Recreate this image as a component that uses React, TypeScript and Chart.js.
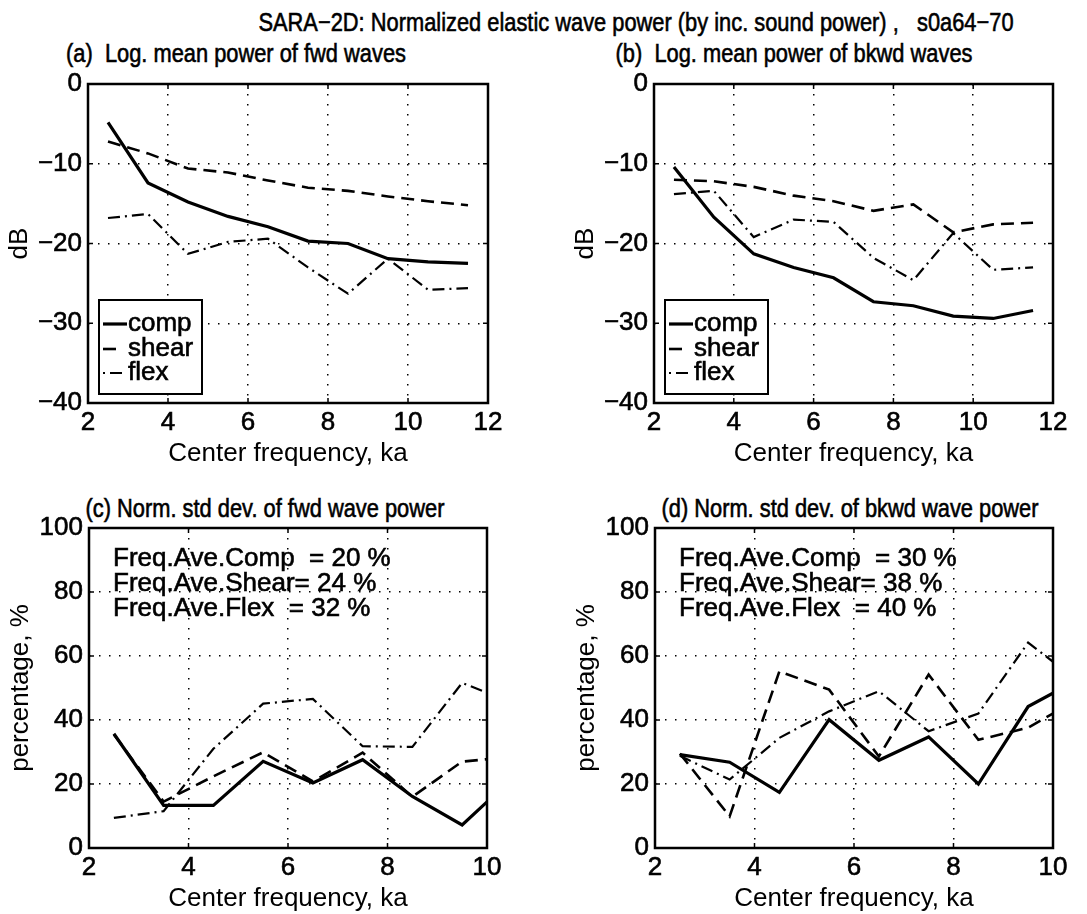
import React, { useEffect, useRef } from 'react';
import { Chart, registerables } from 'chart.js';

Chart.register(...registerables);

const FONT = '"Liberation Sans", Arial, Helvetica, sans-serif';
const FONT_SIZE = 26;
const TEXT_STROKE = 0.6;

// Center frequencies (ka) of the analysis bands
const freqPower = [2.5, 3.5, 4.5, 5.5, 6.5, 7.5, 8.5, 9.5, 10.5, 11.5];
const freqStd = [2.5, 3.5, 4.5, 5.5, 6.5, 7.5, 8.5, 9.5, 10.5];

// (a) log mean power of forward waves, dB
const fwdCompDb = [-4.8, -12.4, -14.8, -16.6, -17.9, -19.7, -20.0, -21.9, -22.3, -22.5];
const fwdShearDb = [-7.2, -8.7, -10.6, -11.1, -12.1, -13.0, -13.4, -14.1, -14.7, -15.2];
const fwdFlexDb = [-16.8, -16.3, -21.3, -19.8, -19.4, -23.0, -26.3, -21.9, -25.8, -25.6];

// (b) log mean power of backward waves, dB
const bkwdCompDb = [-10.4, -16.7, -21.3, -23.0, -24.3, -27.3, -27.8, -29.1, -29.4, -28.4];
const bkwdShearDb = [-12.0, -12.2, -12.9, -14.0, -14.7, -15.9, -15.1, -18.6, -17.6, -17.4];
const bkwdFlexDb = [-13.8, -13.4, -19.2, -17.0, -17.3, -21.8, -24.6, -18.7, -23.3, -23.0];

// (c) normalized std. dev. of forward wave power, %
const fwdCompPct = [35.7, 13.3, 13.3, 27.1, 20.3, 27.6, 16.1, 7.2, 21.6];
const fwdShearPct = [35.5, 14.5, 22.4, 29.9, 20.8, 29.8, 16.0, 27.0, 28.5];
const fwdFlexPct = [9.4, 11.5, 31.0, 45.1, 46.6, 31.8, 31.6, 51.6, 45.5];

// (d) normalized std. dev. of backward wave power, %
const bkwdCompPct = [29.2, 26.8, 17.4, 40.1, 27.4, 34.7, 20.0, 44.2, 52.6];
const bkwdShearPct = [29.5, 9.9, 55.2, 49.5, 28.6, 54.2, 33.8, 37.6, 46.5];
const bkwdFlexPct = [28.8, 21.4, 34.4, 42.7, 49.0, 36.5, 42.0, 64.2, 52.2];

// Frequency-averaged std. dev. (comp, shear, flex), %
const fwdAverages = [20, 24, 32];
const bkwdAverages = [30, 38, 40];

const X_TITLE = 'Center frequency, ka';

type Kind = 'comp' | 'shear' | 'flex';
const KINDS: Kind[] = ['comp', 'shear', 'flex'];

const LINE_STYLE: Record<Kind, { width: number; dash: number[] }> = {
  comp: { width: 3.2, dash: [] },
  shear: { width: 2.6, dash: [13, 7] },
  flex: { width: 2.2, dash: [12, 5, 2, 5] },
};

interface PanelSpec {
  area: { x: number; y: number; w: number; h: number };
  x: { min: number; max: number; step: number };
  y: { min: number; max: number; step: number };
  yTitle: string;
  freq: number[];
  series: number[][];
  legend: boolean;
  notes: string[];
}

const noteLines = (avg: number[]) => [
  `Freq.Ave.Comp  = ${avg[0]} %`,
  `Freq.Ave.Shear= ${avg[1]} %`,
  `Freq.Ave.Flex  = ${avg[2]} %`,
];

const PANELS: PanelSpec[] = [
  {
    area: { x: 88, y: 84, w: 400, h: 319 },
    x: { min: 2, max: 12, step: 2 },
    y: { min: -40, max: 0, step: 10 },
    yTitle: 'dB',
    freq: freqPower,
    series: [fwdCompDb, fwdShearDb, fwdFlexDb],
    legend: true,
    notes: [],
  },
  {
    area: { x: 654, y: 84, w: 399, h: 319 },
    x: { min: 2, max: 12, step: 2 },
    y: { min: -40, max: 0, step: 10 },
    yTitle: 'dB',
    freq: freqPower,
    series: [bkwdCompDb, bkwdShearDb, bkwdFlexDb],
    legend: true,
    notes: [],
  },
  {
    area: { x: 89, y: 528, w: 398, h: 320 },
    x: { min: 2, max: 10, step: 2 },
    y: { min: 0, max: 100, step: 20 },
    yTitle: 'percentage, %',
    freq: freqStd,
    series: [fwdCompPct, fwdShearPct, fwdFlexPct],
    legend: false,
    notes: noteLines(fwdAverages),
  },
  {
    area: { x: 655, y: 528, w: 398, h: 320 },
    x: { min: 2, max: 10, step: 2 },
    y: { min: 0, max: 100, step: 20 },
    yTitle: 'percentage, %',
    freq: freqStd,
    series: [bkwdCompPct, bkwdShearPct, bkwdFlexPct],
    legend: false,
    notes: noteLines(bkwdAverages),
  },
];

const TITLES = [
  { text: 'SARA\u22122D: Normalized elastic wave power (by inc. sound power) ,   s0a64\u221270', x: 636, y: 22 },
  { text: '(a)  Log. mean power of fwd waves', x: 236, y: 53 },
  { text: '(b)  Log. mean power of bkwd waves', x: 794, y: 53 },
  { text: '(c) Norm. std dev. of fwd wave power', x: 265, y: 508 },
  { text: '(d) Norm. std dev. of bkwd wave power', x: 850, y: 508 },
];

// Canvas margins around each plot area
const Y_AXIS_W = 88;
const X_AXIS_H = 66;
const PAD_TOP = 20;
const PAD_RIGHT = 50;

const fmtTick = (v: number | string) => {
  const n = Number(v);
  return n < 0 ? '\u2212' + Math.abs(n) : String(n);
};

const font = (size = FONT_SIZE) => ({ family: FONT, size, weight: 'normal' as const });

const zeroPadding = (s: any) => {
  s.paddingTop = 0;
  s.paddingBottom = 0;
  s.paddingLeft = 0;
  s.paddingRight = 0;
};

// Filled text with a thin outline of the same colour, for a heavier stroke
function heavyText(ctx: CanvasRenderingContext2D, text: string, x: number, y: number) {
  ctx.fillText(text, x, y);
  ctx.save();
  ctx.setLineDash([]);
  ctx.lineWidth = TEXT_STROKE;
  ctx.strokeStyle = '#000';
  ctx.strokeText(text, x, y);
  ctx.restore();
}

function framePlugin(spec: PanelSpec) {
  return {
    id: 'frame',
    afterDatasetsDraw(chart: any) {
      const { ctx, chartArea: ca, scales } = chart;
      ctx.save();
      ctx.strokeStyle = '#000';
      ctx.setLineDash([]);
      // inward tick marks on all four sides
      ctx.lineWidth = 1.5;
      ctx.beginPath();
      for (const t of scales.x.ticks) {
        const px = scales.x.getPixelForValue(t.value);
        ctx.moveTo(px, ca.bottom);
        ctx.lineTo(px, ca.bottom - 5);
        ctx.moveTo(px, ca.top);
        ctx.lineTo(px, ca.top + 5);
      }
      for (const t of scales.y.ticks) {
        const py = scales.y.getPixelForValue(t.value);
        ctx.moveTo(ca.left, py);
        ctx.lineTo(ca.left + 5, py);
        ctx.moveTo(ca.right, py);
        ctx.lineTo(ca.right - 5, py);
      }
      ctx.stroke();
      // axes box
      ctx.lineWidth = 2.5;
      ctx.strokeRect(ca.left, ca.top, ca.right - ca.left, ca.bottom - ca.top);
      ctx.restore();
    },
    afterDraw(chart: any) {
      const { ctx, chartArea: ca } = chart;
      ctx.save();
      ctx.fillStyle = '#000';
      ctx.font = `${FONT_SIZE}px ${FONT}`;
      ctx.textBaseline = 'alphabetic';
      ctx.textAlign = 'left';
      if (spec.legend) {
        const bw = 103;
        const bh = 94;
        const bx = ca.left + 11;
        const by = ca.bottom - 9 - bh;
        ctx.fillStyle = '#fff';
        ctx.fillRect(bx, by, bw, bh);
        ctx.strokeStyle = '#000';
        ctx.lineWidth = 2;
        ctx.setLineDash([]);
        ctx.strokeRect(bx, by, bw, bh);
        const baselines = [31, 56, 80];
        // sample segment per series: [start, end] offsets from the box edge
        const sample: Record<Kind, [number, number]> = {
          comp: [4, 28],
          shear: [4, 17],
          flex: [4, 28],
        };
        KINDS.forEach((k, i) => {
          const base = by + baselines[i];
          const ly = base - 7;
          ctx.save();
          ctx.lineWidth = LINE_STYLE[k].width;
          ctx.setLineDash(LINE_STYLE[k].dash);
          if (k === 'flex') ctx.lineDashOffset = 17;
          ctx.beginPath();
          ctx.moveTo(bx + sample[k][0], ly);
          ctx.lineTo(bx + sample[k][1], ly);
          ctx.stroke();
          ctx.restore();
          ctx.fillStyle = '#000';
          heavyText(ctx, k, bx + 29, base);
        });
      }
      spec.notes.forEach((line, i) => {
        heavyText(ctx, line, ca.left + 24, ca.top + 38 + i * 25);
      });
      ctx.restore();
    },
  };
}

function buildConfig(spec: PanelSpec): any {
  const datasets = spec.series.map((values, i) => {
    const kind = KINDS[i];
    return {
      label: kind,
      data: spec.freq.map((f, j) => ({ x: f, y: values[j] })),
      borderColor: '#000',
      backgroundColor: '#000',
      borderWidth: LINE_STYLE[kind].width,
      borderDash: LINE_STYLE[kind].dash,
      borderCapStyle: 'butt',
      pointRadius: 0,
      pointHoverRadius: 0,
      fill: false,
      tension: 0,
    };
  });
  const gridOpts = { color: '#000', lineWidth: 1.5, drawTicks: false };
  const borderOpts = { display: false, dash: [1.5, 8.5] };
  const tickText = { textStrokeColor: '#000', textStrokeWidth: TEXT_STROKE };
  return {
    type: 'line',
    data: { datasets },
    options: {
      animation: false,
      responsive: false,
      devicePixelRatio: 1,
      events: [],
      layout: { padding: { top: PAD_TOP, right: PAD_RIGHT, bottom: 0, left: 0 } },
      plugins: {
        legend: { display: false },
        title: { display: false },
        tooltip: { enabled: false },
      },
      scales: {
        x: {
          type: 'linear',
          min: spec.x.min,
          max: spec.x.max,
          grid: gridOpts,
          border: borderOpts,
          ticks: {
            stepSize: spec.x.step,
            autoSkip: false,
            maxRotation: 0,
            padding: 4,
            color: '#000',
            font: font(),
            callback: fmtTick,
            ...tickText,
          },
          title: {
            display: true,
            text: X_TITLE,
            color: '#000',
            font: font(),
            padding: { top: 0, bottom: 0 },
          },
          afterFit: (s: any) => {
            s.height = X_AXIS_H;
            zeroPadding(s);
          },
        },
        y: {
          type: 'linear',
          min: spec.y.min,
          max: spec.y.max,
          grid: gridOpts,
          border: borderOpts,
          ticks: {
            stepSize: spec.y.step,
            padding: 6,
            color: '#000',
            font: font(),
            callback: fmtTick,
            ...tickText,
          },
          title: {
            display: true,
            text: spec.yTitle,
            color: '#000',
            font: font(),
            padding: { top: 20 - FONT_SIZE * 0.6, bottom: 0 },
          },
          afterFit: (s: any) => {
            s.width = Y_AXIS_W;
            zeroPadding(s);
          },
        },
      },
    },
    plugins: [framePlugin(spec)],
  };
}

function Panel({ spec }: { spec: PanelSpec }) {
  const ref = useRef<HTMLCanvasElement>(null);
  const cw = Y_AXIS_W + spec.area.w + PAD_RIGHT;
  const ch = PAD_TOP + spec.area.h + X_AXIS_H;
  useEffect(() => {
    if (!ref.current) return;
    const chart = new Chart(ref.current, buildConfig(spec));
    return () => chart.destroy();
  }, [spec]);
  return (
    <canvas
      ref={ref}
      width={cw}
      height={ch}
      style={{
        position: 'absolute',
        left: spec.area.x - Y_AXIS_W,
        top: spec.area.y - PAD_TOP,
        width: cw,
        height: ch,
      }}
    />
  );
}

export default function App() {
  return (
    <div
      style={{
        position: 'absolute',
        left: 0,
        top: 0,
        width: 1087,
        height: 914,
        overflow: 'hidden',
        background: '#fff',
        fontFamily: FONT,
      }}
    >
      {TITLES.map((t) => (
        <div
          key={t.text}
          style={{
            position: 'absolute',
            left: t.x,
            top: t.y,
            fontSize: FONT_SIZE,
            lineHeight: 1,
            whiteSpace: 'pre',
            color: '#000',
            WebkitTextStroke: `${TEXT_STROKE}px #000`,
            transform: 'translate(-50%, -50%) scaleX(0.84)',
          }}
        >
          {t.text}
        </div>
      ))}
      {PANELS.map((p, i) => (
        <Panel key={i} spec={p} />
      ))}
    </div>
  );
}
